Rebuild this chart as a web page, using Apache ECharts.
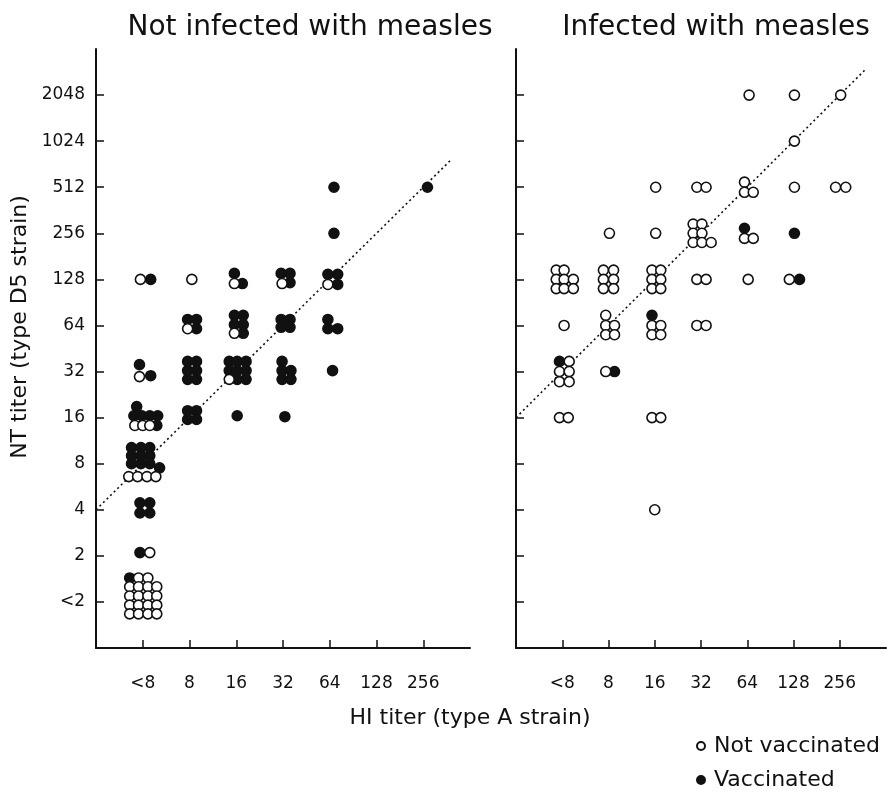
<!DOCTYPE html>
<html>
<head>
<meta charset="utf-8">
<script src="https://cdn.jsdelivr.net/npm/echarts@6/dist/echarts.min.js"></script>
<style>
  html, body { margin: 0; padding: 0; background: #fff; }
  #chart { width: 889px; height: 794px; }
</style>
</head>
<body>
<div id="chart"></div>
<script>
// tick labels (log2 steps shown as category positions)
var xLabels = ['<8', '8', '16', '32', '64', '128', '256'];
var yLabels = ['<2', '2', '4', '8', '16', '32', '64', '128', '256', '512', '1024', '2048'];

// Not infected with measles - points are [HI step, NT step] (small shifts keep the stacked dots apart)
var leftOpen = [
  [-0.05, 7], [-0.07, 4.89],
  [-0.17, 3.83], [0, 3.83], [0.15, 3.83],
  [-0.30, 2.72], [-0.11, 2.72], [0.09, 2.72], [0.28, 2.72],
  [0.15, 1.07],
  [-0.09, 0.52], [0.11, 0.52],
  [-0.28, 0.33], [-0.09, 0.33], [0.11, 0.33], [0.30, 0.33],
  [-0.28, 0.13], [-0.09, 0.13], [0.11, 0.13], [0.30, 0.13],
  [-0.28, -0.07], [-0.09, -0.07], [0.11, -0.07], [0.30, -0.07],
  [-0.28, -0.26], [-0.09, -0.26], [0.11, -0.26], [0.30, -0.26],
  [1.05, 7], [0.96, 5.93],
  [1.96, 6.91], [1.96, 5.83], [1.85, 4.83],
  [2.98, 6.91],
  [3.96, 6.89]
];
var leftFilled = [
  [0.17, 7],
  [-0.07, 5.15], [0.17, 4.91],
  [-0.13, 4.24], [-0.19, 4.04], [-0.02, 4.04], [0.15, 4.04], [0.32, 4.04], [0.30, 3.83],
  [-0.24, 3.35], [-0.04, 3.35], [0.15, 3.35],
  [-0.24, 3.17], [-0.04, 3.17], [0.15, 3.17],
  [-0.24, 3.0], [-0.04, 3.0], [0.15, 3.0], [0.36, 2.91],
  [-0.06, 2.15], [0.15, 2.15], [-0.06, 1.93], [0.15, 1.93],
  [-0.06, 1.07],
  [-0.28, 0.52],
  [0.96, 6.13], [1.15, 6.13], [1.15, 5.93],
  [0.96, 5.22], [1.15, 5.22], [0.96, 5.02], [1.15, 5.02], [0.96, 4.83], [1.15, 4.83],
  [0.96, 4.15], [1.15, 4.15], [0.96, 3.96], [1.15, 3.96],
  [1.96, 7.13], [2.13, 6.91],
  [1.96, 6.22], [2.15, 6.22], [1.96, 6.02], [2.15, 6.02], [2.15, 5.83],
  [1.85, 5.22], [2.02, 5.22], [2.21, 5.22],
  [1.85, 5.02], [2.02, 5.02], [2.21, 5.02],
  [2.02, 4.83], [2.21, 4.83],
  [2.02, 4.04],
  [2.96, 7.13], [3.15, 7.13], [3.15, 6.93],
  [2.96, 6.13], [3.15, 6.13], [2.96, 5.96], [3.15, 5.96],
  [2.98, 5.22], [2.98, 5.02], [3.17, 5.02], [2.98, 4.83], [3.17, 4.83],
  [3.04, 4.02],
  [4.09, 9], [4.09, 8],
  [3.96, 7.11], [4.17, 7.11], [4.17, 6.89],
  [3.96, 6.13], [3.96, 5.93], [4.17, 5.93],
  [4.06, 5.02],
  [6.09, 9]
];

// Infected with measles
var rightOpen = [
  [-0.13, 7.2], [0.04, 7.2],
  [-0.13, 7], [0.04, 7], [0.24, 7],
  [-0.13, 6.8], [0.04, 6.8], [0.24, 6.8],
  [0.04, 6],
  [0.15, 5.22], [-0.06, 5], [0.15, 5], [-0.06, 4.78], [0.15, 4.78],
  [-0.06, 4], [0.13, 4],
  [1.02, 8],
  [0.89, 7.2], [1.11, 7.2], [0.89, 7], [1.11, 7], [0.89, 6.8], [1.11, 6.8],
  [0.94, 6.22], [0.94, 6], [1.13, 6], [0.94, 5.8], [1.13, 5.8],
  [0.94, 5],
  [2.02, 9], [2.02, 8],
  [1.94, 7.2], [2.13, 7.2], [1.94, 7], [2.13, 7], [1.94, 6.8], [2.13, 6.8],
  [1.94, 6], [2.13, 6], [1.94, 5.8], [2.13, 5.8],
  [1.94, 4], [2.13, 4],
  [2.0, 2],
  [2.91, 9], [3.11, 9],
  [2.83, 8.2], [3.02, 8.2], [2.83, 8], [3.02, 8], [2.83, 7.8], [3.02, 7.8], [3.22, 7.8],
  [2.91, 7], [3.11, 7],
  [2.91, 6], [3.11, 6],
  [4.04, 11],
  [3.94, 9.11], [3.94, 8.89], [4.13, 8.89],
  [3.94, 7.89], [4.13, 7.89],
  [4.02, 7],
  [5.02, 11], [5.02, 10], [5.02, 9], [4.91, 7],
  [6.02, 11], [5.91, 9], [6.13, 9]
];
var rightFilled = [
  [-0.06, 5.22],
  [1.13, 5],
  [1.94, 6.22],
  [3.94, 8.11],
  [5.02, 8],
  [5.13, 7]
];

// dotted reference lines (NT = 2 x HI left, NT = 8 x HI right)
var fitLeft = [[-1, 2], [6.6, 9.6]];
var fitRight = [[-1, 4], [6.55, 11.55]];

var xTicks = xLabels.map(function (t, i) { return i; });
var yTicks = yLabels.map(function (t, i) { return i; });

var font = 'DejaVu Sans';
var ink = '#111';

function makeX(idx) {
  return {
    type: 'value', gridIndex: idx, min: -1, max: 7,
    splitLine: { show: false },
    axisLine: { onZero: false, lineStyle: { color: ink, width: 2 } },
    axisTick: { inside: true, length: 8, lineStyle: { color: ink, width: 1.5 }, customValues: xTicks },
    axisLabel: {
      customValues: xTicks, margin: 27, color: ink, fontFamily: font, fontSize: 17,
      formatter: function (v) { return xLabels[Math.round(v)] || ''; }
    }
  };
}
function makeY(idx, showLabel) {
  return {
    type: 'value', gridIndex: idx, min: -1, max: 12,
    splitLine: { show: false },
    axisLine: { onZero: false, lineStyle: { color: ink, width: 2 } },
    axisTick: { inside: true, length: 8, lineStyle: { color: ink, width: 1.5 }, customValues: yTicks },
    axisLabel: {
      show: showLabel, customValues: yTicks, margin: 11, color: ink, fontFamily: font, fontSize: 17,
      formatter: function (v) { return yLabels[Math.round(v)] || ''; }
    }
  };
}
function dots(name, data, idx, filled) {
  return {
    name: name, type: 'scatter', xAxisIndex: idx, yAxisIndex: idx,
    data: data, symbol: 'circle', symbolSize: 10,
    itemStyle: { color: filled ? ink : '#fff', borderColor: ink, borderWidth: 1.6, opacity: 1 },
    z: filled ? 3 : 4
  };
}
function fit(data, idx) {
  return {
    type: 'line', xAxisIndex: idx, yAxisIndex: idx, data: data,
    symbol: 'none', silent: true, z: 2,
    lineStyle: { color: ink, width: 1.6, type: [2, 3] }
  };
}
function legendItem(name, top) {
  return {
    data: [name], left: 696, top: top, padding: 0,
    itemWidth: 8, itemHeight: 8, icon: 'circle', itemGap: 0,
    textStyle: { fontFamily: font, fontSize: 22, color: ink, padding: [0, 0, 0, 4] }
  };
}

var chart = echarts.init(document.getElementById('chart'), null, { renderer: 'canvas' });
chart.setOption({
  animation: false,
  backgroundColor: '#fff',
  grid: [
    { left: 96, top: 49, width: 374, height: 599 },
    { left: 516, top: 49, width: 370, height: 599 }
  ],
  xAxis: [makeX(0), makeX(1)],
  yAxis: [makeY(0, true), makeY(1, false)],
  legend: [legendItem('Not vaccinated', 735), legendItem('Vaccinated', 769)],
  graphic: [
    { type: 'text', x: 310, y: 28, style: { text: 'Not infected with measles', font: '28px "DejaVu Sans"', fill: ink, align: 'center', verticalAlign: 'middle' } },
    { type: 'text', x: 716, y: 28, style: { text: 'Infected with measles', font: '28px "DejaVu Sans"', fill: ink, align: 'center', verticalAlign: 'middle' } },
    { type: 'text', x: 20, y: 327, rotation: Math.PI / 2, style: { text: 'NT titer (type D5 strain)', font: '22px "DejaVu Sans"', fill: ink, align: 'center', verticalAlign: 'middle' } },
    { type: 'text', x: 470, y: 718, style: { text: 'HI titer (type A strain)', font: '22px "DejaVu Sans"', fill: ink, align: 'center', verticalAlign: 'middle' } }
  ],
  series: [
    fit(fitLeft, 0),
    fit(fitRight, 1),
    dots('Vaccinated', leftFilled, 0, true),
    dots('Not vaccinated', leftOpen, 0, false),
    dots('Vaccinated', rightFilled, 1, true),
    dots('Not vaccinated', rightOpen, 1, false)
  ]
});
</script>
</body>
</html>
